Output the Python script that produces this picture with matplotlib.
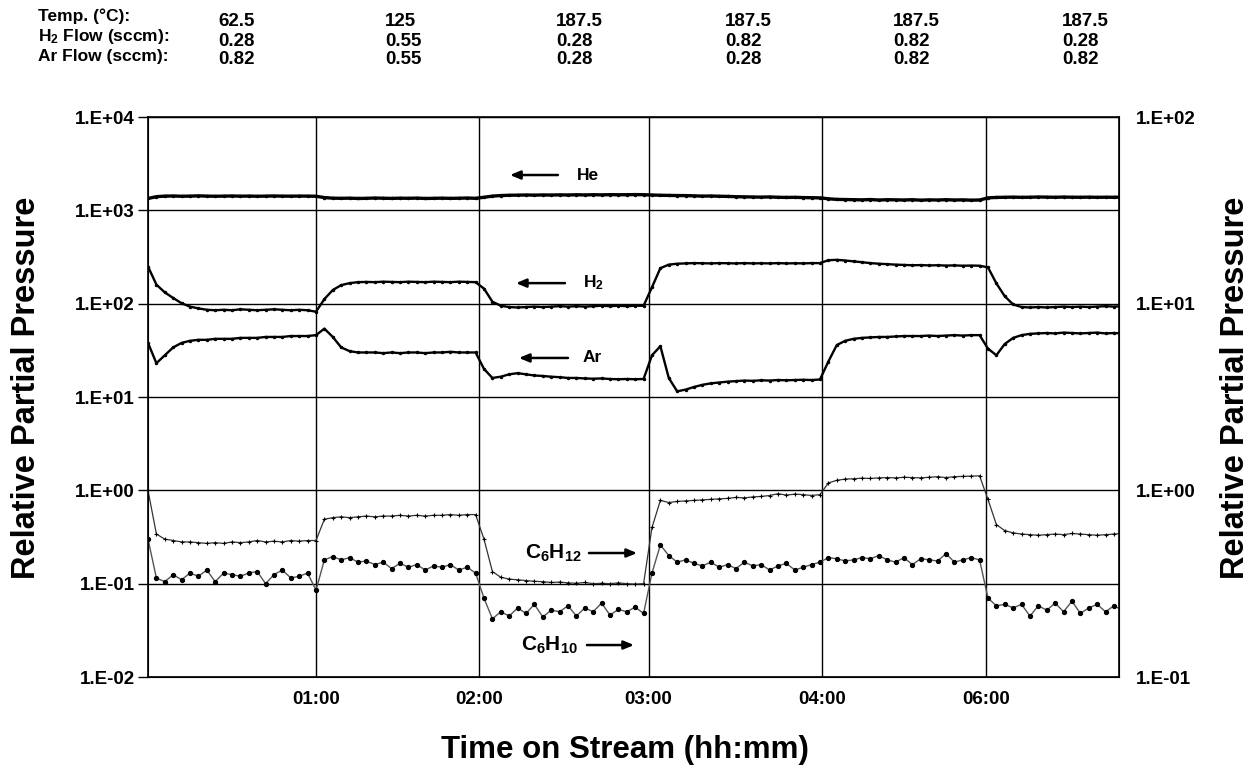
import matplotlib
matplotlib.use('Agg')
import matplotlib.pyplot as plt
import numpy as np

plt.rcParams['font.family'] = ['Liberation Sans', 'DejaVu Sans']
plt.rcParams['font.weight'] = 'bold'
plt.rcParams['mathtext.default'] = 'regular'

# 条件表 (ヘッダー)
row_labels = ['Temp. (°C):', 'H$_2$ Flow (sccm):', 'Ar Flow (sccm):']
temp_vals = ['62.5', '125', '187.5', '187.5', '187.5', '187.5']
h2_flow = ['0.28', '0.55', '0.28', '0.82', '0.82', '0.28']
ar_flow = ['0.82', '0.55', '0.28', '0.28', '0.82', '0.82']

# 条件切替時刻 (h) と目盛ラベル
switch_times = [1.0, 1.97, 2.98, 4.01, 4.99]
tick_labels = ['01:00', '02:00', '03:00', '04:00', '06:00']
t_end = 5.78
dt = 0.05  # サンプリング間隔 (h)

# 各成分の相対分圧 (1行 = 1区間)
he = [1340, 1400, 1420, 1425, 1415, 1420, 1430, 1420, 1415, 1420, 1425, 1418, 1422, 1415, 1420, 1425, 1420, 1418, 1422, 1420, 1415,
      1370, 1350, 1345, 1350, 1340, 1345, 1355, 1348, 1342, 1350, 1345, 1352, 1340, 1345, 1350, 1343, 1348, 1355, 1345,
      1380, 1420, 1440, 1450, 1455, 1460, 1455, 1462, 1458, 1465, 1460, 1468, 1462, 1470, 1465, 1472, 1468, 1470, 1475, 1470,
      1460, 1450, 1445, 1440, 1438, 1430, 1420, 1425, 1415, 1410, 1400, 1395, 1390, 1385, 1392, 1380, 1375, 1378, 1370, 1365, 1360,
      1330, 1310, 1305, 1300, 1295, 1305, 1290, 1300, 1295, 1290, 1300, 1285, 1295, 1290, 1300, 1290, 1295, 1285, 1290,
      1360, 1375, 1380, 1385, 1378, 1382, 1390, 1385, 1380, 1388, 1382, 1380, 1385, 1378, 1382, 1380, 1385]
h2 = [250, 160, 132, 115, 101, 93, 89, 86, 85, 86, 85, 87, 86, 85, 86, 87, 86, 85, 86, 85, 82,
      112, 140, 158, 166, 170, 171, 170, 172, 171, 170, 172, 171, 170, 172, 171, 170, 172, 171, 170,
      145, 105, 95, 92, 91, 92, 93, 92, 93, 94, 93, 94, 93, 94, 95, 94, 95, 94, 95, 95,
      150, 240, 262, 268, 270, 272, 271, 270, 272, 271, 270, 272, 270, 271, 270, 272, 270, 271, 270, 272, 272,
      292, 295, 290, 284, 278, 272, 268, 265, 262, 260, 258, 259, 257, 258, 256, 257, 255, 256, 255,
      245, 165, 120, 98, 92, 91, 92, 91, 92, 93, 92, 93, 92, 93, 94, 93, 94]
ar = [38, 23, 28, 34, 38, 40, 41, 41, 42, 42, 42, 43, 43, 43, 44, 44, 44, 45, 45, 45, 46,
      54, 44, 34, 31, 30, 30, 30, 29.5, 30, 29.5, 30, 30, 29.5, 30, 30, 30.5, 30, 30, 30,
      20, 16, 16.5, 17.5, 18, 17.5, 17, 16.8, 16.5, 16.3, 16, 16, 15.8, 15.7, 15.8, 15.6, 15.5, 15.6, 15.5, 15.6,
      28, 35, 16, 11.5, 12, 12.8, 13.5, 14, 14.3, 14.6, 14.8, 15, 14.9, 15.1, 15, 15.2, 15.1, 15.2, 15.3, 15.2, 15.4,
      24, 36, 40, 42, 43, 43.5, 44, 44, 44.5, 45, 45, 45, 45.5, 45, 45.5, 46, 45.5, 46, 46,
      33, 28, 37, 43, 46, 47.5, 48, 48.5, 48, 49, 48.5, 48, 48.5, 49, 48, 48.5, 48]
c6h12 = [1.0, 0.34, 0.30, 0.29, 0.28, 0.28, 0.275, 0.27, 0.275, 0.27, 0.28, 0.275, 0.28, 0.29, 0.28, 0.285, 0.28, 0.29, 0.285, 0.29, 0.29,
         0.49, 0.51, 0.52, 0.51, 0.52, 0.53, 0.52, 0.53, 0.53, 0.54, 0.53, 0.54, 0.53, 0.54, 0.54, 0.55, 0.54, 0.55, 0.55,
         0.30, 0.135, 0.117, 0.112, 0.11, 0.108, 0.106, 0.105, 0.103, 0.104, 0.102, 0.101, 0.103, 0.1, 0.101, 0.1, 0.102, 0.1, 0.099, 0.1,
         0.4, 0.78, 0.74, 0.76, 0.77, 0.78, 0.79, 0.8, 0.81, 0.82, 0.84, 0.83, 0.85, 0.86, 0.88, 0.92, 0.89, 0.91, 0.9, 0.88, 0.9,
         1.2, 1.28, 1.32, 1.33, 1.35, 1.34, 1.36, 1.37, 1.36, 1.38, 1.37, 1.36, 1.38, 1.4, 1.37, 1.4, 1.41, 1.42, 1.43,
         0.8, 0.43, 0.37, 0.35, 0.34, 0.335, 0.33, 0.335, 0.34, 0.335, 0.345, 0.34, 0.335, 0.33, 0.335, 0.34, 0.345]
c6h10 = [0.30, 0.115, 0.105, 0.125, 0.11, 0.13, 0.12, 0.14, 0.105, 0.13, 0.125, 0.12, 0.13, 0.135, 0.1, 0.125, 0.14, 0.115, 0.12, 0.13, 0.085,
         0.18, 0.195, 0.18, 0.19, 0.17, 0.175, 0.16, 0.17, 0.145, 0.165, 0.15, 0.16, 0.14, 0.155, 0.15, 0.16, 0.14, 0.15, 0.13,
         0.07, 0.042, 0.05, 0.045, 0.055, 0.048, 0.06, 0.044, 0.052, 0.05, 0.058, 0.045, 0.055, 0.05, 0.062, 0.046, 0.053, 0.05, 0.056, 0.048,
         0.13, 0.26, 0.2, 0.17, 0.18, 0.165, 0.155, 0.17, 0.15, 0.16, 0.145, 0.17, 0.155, 0.16, 0.14, 0.155, 0.165, 0.14, 0.15, 0.16, 0.17,
         0.19, 0.185, 0.175, 0.18, 0.19, 0.185, 0.2, 0.18, 0.17, 0.19, 0.16, 0.185, 0.18, 0.175, 0.21, 0.17, 0.18, 0.19, 0.18,
         0.07, 0.058, 0.06, 0.055, 0.06, 0.045, 0.058, 0.052, 0.062, 0.05, 0.065, 0.048, 0.055, 0.06, 0.05, 0.058, 0.052]

t = np.arange(len(he)) * dt


def sci_label(v):
    return '1.E%+03d' % int(round(np.log10(v)))


W, H = 1253, 767
fig = plt.figure(figsize=(W / 100, H / 100), dpi=100)
ax = fig.add_axes([148 / W, 1 - 677 / H, (1119 - 148) / W, (677 - 117) / H])

# 系列
ax.plot(t, he, color='black', lw=2.4, marker='.', ms=3)
ax.plot(t, h2, color='black', lw=1.7, marker='.', ms=3)
ax.plot(t, ar, color='black', lw=1.7, marker='.', ms=3)
ax.plot(t, c6h12, color='#333333', lw=0.9, marker='+', ms=3.5, mew=0.8, mec='black')
ax.plot(t, c6h10, color='#555555', lw=1.0, marker='o', ms=2.8, mfc='black', mec='black')

ax.set_yscale('log')
ax.set_ylim(1e-2, 1e4)
ax.set_xlim(0, t_end)

yt = [1e-2, 1e-1, 1e0, 1e1, 1e2, 1e3, 1e4]
ax.set_yticks(yt)
ax.set_yticklabels([sci_label(v) for v in yt])
ax.yaxis.set_minor_locator(matplotlib.ticker.NullLocator())
ax.set_xticks(switch_times)
ax.set_xticklabels(tick_labels)
ax.tick_params(axis='x', length=0, pad=10, labelsize=13.5)
ax.tick_params(axis='y', direction='out', length=7, width=1, pad=2.5, labelsize=13.5)

# グリッド線
ax.grid(True, which='major', color='black', lw=1)
for s in ax.spines.values():
    s.set_linewidth(1.2)

# 第2軸
ax2 = ax.twinx()
ax2.set_yscale('log')
ax2.set_ylim(1e-1, 1e2)
yt2 = [1e-1, 1e0, 1e1, 1e2]
ax2.set_yticks(yt2)
ax2.set_yticklabels([sci_label(v) for v in yt2])
ax2.yaxis.set_minor_locator(matplotlib.ticker.NullLocator())
ax2.tick_params(axis='y', length=0, pad=12, labelsize=13.5)

# 軸ラベル
fig.text(27 / W, 1 - 388 / H, 'Relative Partial Pressure', fontsize=23.5, fontweight='bold',
         rotation=90, ha='center', va='center')
fig.text(1236 / W, 1 - 388 / H, 'Relative Partial Pressure', fontsize=23.5, fontweight='bold',
         rotation=90, ha='center', va='center')
fig.text(625 / W, 1 - 750 / H, 'Time on Stream (hh:mm)', fontsize=22.5, fontweight='bold',
         ha='center', va='center')

# 注記 (矢印付きラベル)
arrow = dict(arrowstyle='-|>,head_length=0.6,head_width=0.25', color='black', lw=1.8, shrinkA=0, shrinkB=0)
ax.annotate('', xy=(2.155, 2390), xytext=(2.44, 2390), arrowprops=arrow)
ax.text(2.555, 2390, 'He', fontsize=12.5, va='center', ha='left')
ax.annotate('', xy=(2.19, 166), xytext=(2.482, 166), arrowprops=arrow)
ax.text(2.589, 166, 'H$_2$', fontsize=12.5, va='center', ha='left')
ax.annotate('', xy=(2.208, 26.2), xytext=(2.5, 26.2), arrowprops=arrow)
ax.text(2.589, 26.2, 'Ar', fontsize=12.5, va='center', ha='left')
ax.annotate('', xy=(2.911, 0.213), xytext=(2.625, 0.213), arrowprops=arrow)
ax.text(2.244, 0.213, 'C$_6$H$_{12}$', fontsize=15, va='center', ha='left')
ax.annotate('', xy=(2.893, 0.022), xytext=(2.613, 0.022), arrowprops=arrow)
ax.text(2.22, 0.022, 'C$_6$H$_{10}$', fontsize=15, va='center', ha='left')

# ヘッダー表
label_y = [16, 37, 57]
value_y = [21, 41, 60]
col_x = [218, 385, 556, 725, 893, 1062]
for lab, y in zip(row_labels, label_y):
    fig.text(38 / W, 1 - y / H, lab, fontsize=12.5, va='center', ha='left')
for vals, y in zip([temp_vals, h2_flow, ar_flow], value_y):
    for v, x in zip(vals, col_x):
        fig.text(x / W, 1 - y / H, v, fontsize=13.5, va='center', ha='left')

fig.savefig('out.png', dpi=100)
